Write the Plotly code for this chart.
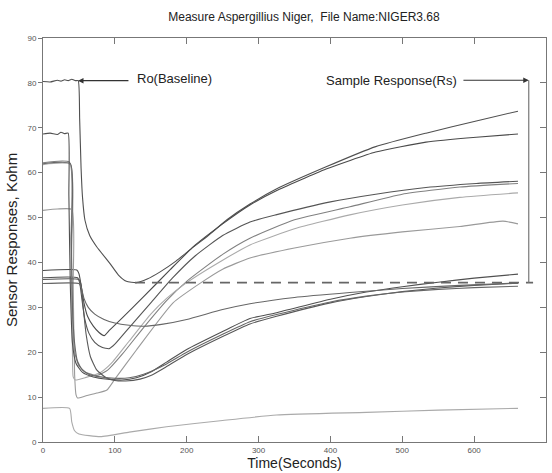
import plotly.graph_objects as go

# ---------------- data ----------------
# A: Ro baseline ~80.5
a_t = [0, 10, 20, 25, 30, 35, 40, 45, 49, 51, 53, 55, 58.4, 65, 74.7, 93, 105, 116, 130, 145, 163, 185, 209, 230, 256, 288, 324, 394, 463, 533, 603, 661]
a_v = [80.3, 80.2, 80.6, 80.4, 80.7, 80.5, 80.8, 80.5, 80.5, 72, 61, 54.5, 49.4, 46, 43.5, 39.8, 37.2, 35.8, 35.5, 36.3, 37.9, 40.3, 43.4, 46, 49.5, 53.0, 56.3, 61.3, 65.8, 68.8, 71.5, 73.7]

b_t = [0, 47, 50, 53, 57, 62, 70, 78, 85, 93, 110, 139, 177, 212, 250, 288, 324, 394, 463, 533, 603, 661]
b_v = [38.2, 38.3, 37.5, 35, 31, 28, 25.8, 24.4, 23.7, 25.0, 27.6, 32.2, 38.4, 43.9, 48.6, 52.8, 55.9, 60.8, 64.6, 66.8, 67.9, 68.6]

c_t = [0, 48, 51, 54, 58, 64, 72, 82, 92, 100, 120, 150, 180, 212, 250, 288, 324, 400, 463, 533, 603, 661]
c_v = [36.6, 36.6, 35.5, 32, 27.5, 24.2, 22.2, 21.1, 20.8, 21.8, 25.5, 31, 36.5, 41.5, 46, 49, 50.6, 53.5, 55.2, 56.7, 57.6, 58.1]

d_t = [0, 37, 39, 41, 44, 50, 60, 75, 90, 110, 140, 172, 200, 250, 288, 350, 427, 500, 580, 661]
d_v = [62.2, 62.3, 45, 28, 20, 17, 15.5, 14.8, 16, 19.5, 25.5, 31.5, 35.8, 41.8, 45.4, 49.5, 52.4, 55.2, 56.8, 57.6]

e_t = [0, 20, 40, 42, 44, 46, 48, 60, 75, 89, 100, 130, 181, 220, 250, 288, 350, 427, 500, 580, 640, 661]
e_v = [51.6, 51.9, 51.8, 35, 15, 10.5, 9.8, 10.3, 10.9, 11.6, 14, 20.5, 31, 35.5, 38.5, 41, 43.2, 45.4, 46.8, 48, 49.2, 48.6]

f_t = [0, 38, 39.5, 41, 42, 45, 60, 80, 95, 120, 150, 172, 200, 250, 288, 350, 427, 500, 580, 661]
f_v = [61.8, 61.8, 40, 20, 14.5, 13.8, 14.4, 15.5, 17.5, 22.5, 28.5, 32, 35.5, 40.5, 43.9, 47.5, 50.6, 52.8, 54.5, 55.5]

g_t = [0, 10, 20, 25, 30, 35, 36, 38, 41, 46, 55, 70, 90, 110, 130, 150, 172, 200, 250, 288, 325, 400, 450, 500, 550, 600, 661]
g_v = [68.6, 68.8, 68.5, 69, 68.7, 68.8, 55, 35, 22, 17.5, 15.5, 14.5, 14, 13.8, 14.3, 15.6, 17.8, 20.6, 24.6, 27.5, 28.8, 31.8, 33.4, 34.6, 35.6, 36.5, 37.4]

h_t = [0, 50, 53, 56, 60, 66, 75, 88, 100, 115, 135, 150, 172, 200, 250, 288, 325, 400, 450, 500, 550, 600, 661]
h_v = [36.2, 36.2, 35, 30, 24, 19, 16, 14.3, 13.7, 13.6, 14, 14.8, 16.8, 19.5, 23.5, 26.3, 28, 31, 32.4, 33.5, 34.3, 34.9, 35.4]

i_t = [0, 38, 39.5, 41, 44, 48, 55, 65, 80, 100, 120, 140, 172, 200, 250, 288, 325, 400, 450, 500, 550, 600, 661]
i_v = [62.0, 62, 45, 30, 22, 18, 16, 15, 14.5, 14.2, 14.3, 15.1, 17.4, 20, 24, 26.8, 28.4, 31.2, 32.5, 33.4, 34, 34.4, 34.7]

j_t = [0, 50, 53, 57, 63, 72, 85, 100, 120, 140, 165, 200, 250, 288, 350, 427, 500, 580, 661]
j_v = [35.3, 35.3, 34.5, 32, 30, 28.5, 27.3, 26.5, 26, 25.8, 26.2, 27.3, 29.5, 30.8, 32.2, 33.3, 34.2, 34.9, 35.4]

k_t = [0, 37, 40, 44, 50, 80, 120, 172, 250, 325, 450, 550, 661]
k_v = [7.5, 7.5, 4.5, 2.5, 1.8, 1.2, 2.2, 3.4, 4.8, 6.0, 6.6, 7.1, 7.5]

series = [
    ("A", a_t, a_v, "#505050"),
    ("B", b_t, b_v, "#4a4a4a"),
    ("C", c_t, c_v, "#555555"),
    ("D", d_t, d_v, "#808080"),
    ("E", e_t, e_v, "#9a9a9a"),
    ("F", f_t, f_v, "#aaaaaa"),
    ("G", g_t, g_v, "#505050"),
    ("H", h_t, h_v, "#585858"),
    ("I", i_t, i_v, "#666666"),
    ("J", j_t, j_v, "#666666"),
    ("K", k_t, k_v, "#aaaaaa"),
]

# annotation geometry (data units)
ro_level = 80.5
ro_tip_t, ro_tail_t = 48.7, 121
rs_level = 80.6
rs_tail_t, rs_tip_t = 583, 676
dash_level = 35.5
dash_start_t, dash_end_t = 128, 682

FONT = "Arial, Liberation Sans, sans-serif"

fig = go.Figure()
for name, t, v, col in series:
    fig.add_trace(go.Scatter(x=t, y=v, mode="lines", name=name,
                             line=dict(color=col, width=1.1, shape="spline", smoothing=0.5),
                             showlegend=False, hoverinfo="skip"))

# dashed reference line and vertical Rs line
fig.add_trace(go.Scatter(x=[dash_start_t, dash_end_t], y=[dash_level, dash_level], mode="lines",
                         line=dict(color="#666666", width=1.6, dash="10px,7px"),
                         showlegend=False, hoverinfo="skip"))
fig.add_trace(go.Scatter(x=[rs_tip_t, rs_tip_t], y=[rs_level, dash_level], mode="lines",
                         line=dict(color="#777777", width=1.2),
                         showlegend=False, hoverinfo="skip"))
# dummy trace on right axis for inside ticks
fig.add_trace(go.Scatter(x=[0], y=[0], yaxis="y2", mode="lines", line=dict(width=0),
                         showlegend=False, hoverinfo="skip"))

fig.add_annotation(x=ro_tip_t, y=ro_level, ax=ro_tail_t, ay=ro_level, axref="x", ayref="y",
                   xref="x", yref="y", text="", showarrow=True, arrowhead=2, arrowsize=1,
                   arrowwidth=1.1, arrowcolor="#333333")
fig.add_annotation(x=ro_tail_t + 7, y=ro_level + 0.5, xref="x", yref="y", text="Ro(Baseline)",
                   showarrow=False, xanchor="left", yanchor="middle",
                   font=dict(family=FONT, size=13, color="#222222"))
fig.add_annotation(x=rs_tip_t, y=rs_level, ax=rs_tail_t, ay=rs_level, axref="x", ayref="y",
                   xref="x", yref="y", text="", showarrow=True, arrowhead=2, arrowsize=1,
                   arrowwidth=1.1, arrowcolor="#333333")
fig.add_annotation(x=rs_tail_t - 4, y=rs_level, xref="x", yref="y", text="Sample Response(Rs)",
                   showarrow=False, xanchor="right", yanchor="middle",
                   font=dict(family=FONT, size=13, color="#222222"))

fig.update_layout(
    width=552, height=473,
    margin=dict(l=43, r=6, t=38, b=31),
    paper_bgcolor="white", plot_bgcolor="white",
    font=dict(family=FONT, color="#333333"),
    title=dict(text="Measure Aspergillius Niger,  File Name:NIGER3.68",
               x=304 / 552, xref="container", xanchor="center",
               y=1 - 17 / 473, yref="container", yanchor="middle",
               font=dict(family=FONT, size=12, color="#222222")),
    xaxis=dict(range=[0, 700], dtick=100, tick0=0, showgrid=False, zeroline=False,
               showline=True, linecolor="#777777", linewidth=1, mirror="ticks",
               ticks="inside", ticklen=6, tickcolor="#777777",
               tickfont=dict(size=8, color="#555555"),
               title=dict(text="Time(Seconds)", font=dict(family=FONT, size=14, color="#222222"),
                          standoff=2)),
    yaxis=dict(range=[0, 90], dtick=10, tick0=0, showgrid=False, zeroline=False,
               showline=True, linecolor="#777777", linewidth=1, mirror=True,
               ticks="outside", ticklen=4, tickcolor="#777777",
               tickfont=dict(size=8, color="#555555"),
               title=dict(text="Sensor Responses, Kohm", font=dict(family=FONT, size=15, color="#222222"),
                          standoff=6)),
    yaxis2=dict(range=[0, 90], dtick=10, overlaying="y", side="right", showgrid=False,
                zeroline=False, showline=False, ticks="inside", ticklen=6, tickcolor="#777777",
                showticklabels=False),
)

fig.write_html("out.html", config={"displayModeBar": False},
               post_script="document.body.style.margin='0';")
